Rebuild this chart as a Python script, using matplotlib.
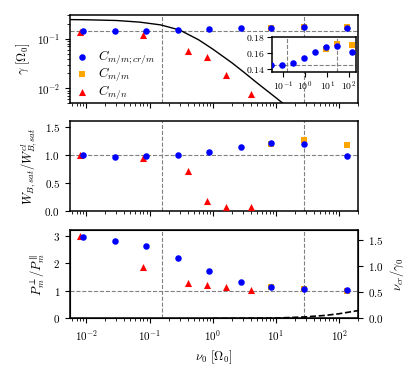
import numpy as np
import matplotlib
matplotlib.use("Agg")
import matplotlib.pyplot as plt

plt.rcParams['font.family'] = 'serif'
plt.rcParams['font.serif'] = ['cmr10']
plt.rcParams['mathtext.fontset'] = 'cm'
plt.rcParams['axes.formatter.use_mathtext'] = True
plt.rcParams['axes.unicode_minus'] = False

# ---- data ----
nu_blue = [0.009, 0.028, 0.087, 0.28, 0.87, 2.8, 8.5, 27.5, 135]
nu_orange = [8.5, 27.5, 135]
nu_red = [0.008, 0.08, 0.4, 0.8, 1.6, 4.0]

gamma_blue = [0.145, 0.145, 0.145, 0.148, 0.154, 0.162, 0.168, 0.169, 0.161]
gamma_orange = [0.1655, 0.172, 0.170]
gamma_red = [0.136, 0.120, 0.058, 0.043, 0.0185, 0.0076]

W_blue = [1.0, 0.97, 0.985, 1.0, 1.055, 1.14, 1.22, 1.20, 0.985]
W_orange = [1.19, 1.26, 1.18]
W_red = [1.0, 0.935, 0.71, 0.18, 0.07, 0.06]

P_blue = [2.96, 2.82, 2.64, 2.18, 1.71, 1.32, 1.14, 1.05, 1.02]
P_orange = [1.13, 1.05, 1.01]
P_red = [2.98, 1.88, 1.29, 1.22, 1.14, 1.04]

curve_nu = [0.0055, 0.01, 0.03, 0.07, 0.15, 0.3, 0.6, 1.0, 2.0, 3.0, 5.0, 10.0, 15.0]
curve_gamma = [0.243, 0.241, 0.233, 0.216, 0.19, 0.15, 0.095, 0.062, 0.033, 0.022, 0.013, 0.0065, 0.0043]

cr_nu = [1.0, 3.0, 10.0, 28.0, 60.0, 100.0, 200.0]
cr_val = [0.0005, 0.002, 0.008, 0.029, 0.058, 0.09, 0.15]

vlines = [0.155, 27.5]
gamma_ref = 0.145

labels = [r'$C_{m/m;cr/m}$', r'$C_{m/m}$', r'$C_{m/n}$']

fig = plt.figure(figsize=(4.16, 3.76), dpi=100)
L, W = 0.168, 0.693
ax1 = fig.add_axes([L, 0.725, W, 0.235])
ax2 = fig.add_axes([L, 0.440, W, 0.237])
ax3 = fig.add_axes([L, 0.153, W, 0.235])

ms = 22
def pts(ax, b, o, r, leg=False):
    ax.scatter(nu_orange, o, marker='s', s=ms, color='orange', zorder=3,
               label=labels[1] if leg else None, linewidths=0)
    ax.scatter(nu_red, r, marker='^', s=ms + 4, color='red', zorder=4,
               label=labels[2] if leg else None, linewidths=0)
    ax.scatter(nu_blue, b, marker='o', s=ms, color='blue', zorder=5,
               label=labels[0] if leg else None, linewidths=0)

for ax in (ax1, ax2, ax3):
    ax.set_xscale('log')
    ax.set_xlim(5.5e-3, 2e2)
    for v in vlines:
        ax.axvline(v, color='gray', ls='--', lw=0.8, zorder=1)
    ax.tick_params(labelsize=8)
    for s in ax.spines.values():
        s.set_linewidth(1.1)

# top
ax1.set_yscale('log')
ax1.set_ylim(5e-3, 0.3)
ax1.axhline(gamma_ref, color='gray', ls='--', lw=0.8, zorder=1)
ax1.plot(curve_nu, curve_gamma, color='black', lw=1.0, zorder=2)
pts(ax1, gamma_blue, gamma_orange, gamma_red, leg=True)
h, l = ax1.get_legend_handles_labels()
order = [l.index(x) for x in labels]
ax1.legend([h[i] for i in order], [l[i] for i in order], loc='lower left',
           frameon=False, fontsize=9.5, handletextpad=0.6, labelspacing=-0.05,
           handlelength=1.2, borderaxespad=0.0, borderpad=0.0,
           bbox_to_anchor=(0.015, 0.02))
ax1.set_ylabel(r'$\gamma\ [\Omega_0]$', fontsize=9)
ax1.tick_params(labelbottom=False)

# inset
axi = fig.add_axes([0.653, 0.808, 0.202, 0.0947])
axi.set_xscale('log')
axi.set_xlim(0.03, 200)
axi.set_ylim(0.136, 0.181)
for v in vlines:
    axi.axvline(v, color='gray', ls='--', lw=0.8, zorder=1)
axi.axhline(gamma_ref, color='gray', ls='--', lw=0.8, zorder=1)
axi.scatter(nu_orange, gamma_orange, marker='s', s=ms, color='orange', zorder=3, linewidths=0)
axi.scatter(nu_blue, gamma_blue, marker='o', s=ms, color='blue', zorder=5, linewidths=0)
axi.set_yticks([0.14, 0.16, 0.18])
axi.set_xticks([0.1, 1, 10, 100])
axi.tick_params(labelsize=7, pad=1.5)
for s in axi.spines.values():
    s.set_linewidth(1.1)
axi.set_facecolor('white')
axi.set_zorder(10)

# middle
ax2.set_ylim(0, 1.6)
ax2.axhline(1.0, color='gray', ls='--', lw=0.8, zorder=1)
pts(ax2, W_blue, W_orange, W_red)
ax2.set_yticks([0.0, 0.5, 1.0, 1.5])
ax2.set_ylabel(r'$W_{B,sat}/W_{B,sat}^{cl}$', fontsize=9)
ax2.tick_params(labelbottom=False)

# bottom
ax3.set_ylim(0, 3.2)
ax3.axhline(1.0, color='gray', ls='--', lw=0.8, zorder=1)
pts(ax3, P_blue, P_orange, P_red)
ax3.set_yticks([0, 1, 2, 3])
ax3.set_ylabel(r'$P_m^{\perp}/P_m^{\parallel}$', fontsize=9)
ax3.set_xlabel(r'$\nu_0\ [\Omega_0]$', fontsize=9)
ax3.set_xticks([1e-2, 1e-1, 1e0, 1e1, 1e2])

axr = ax3.twinx()
axr.set_ylim(0, 1.68)
axr.plot(cr_nu, cr_val, color='black', ls='--', lw=1.2)
axr.set_yticks([0.0, 0.5, 1.0, 1.5])
axr.tick_params(labelsize=8)
axr.set_ylabel(r'$\nu_{cr}/\gamma_0$', fontsize=9)
axr.set_xlim(5.5e-3, 2e2)

fig.align_ylabels([ax1, ax2, ax3])
fig.savefig('out.png', dpi=100)
